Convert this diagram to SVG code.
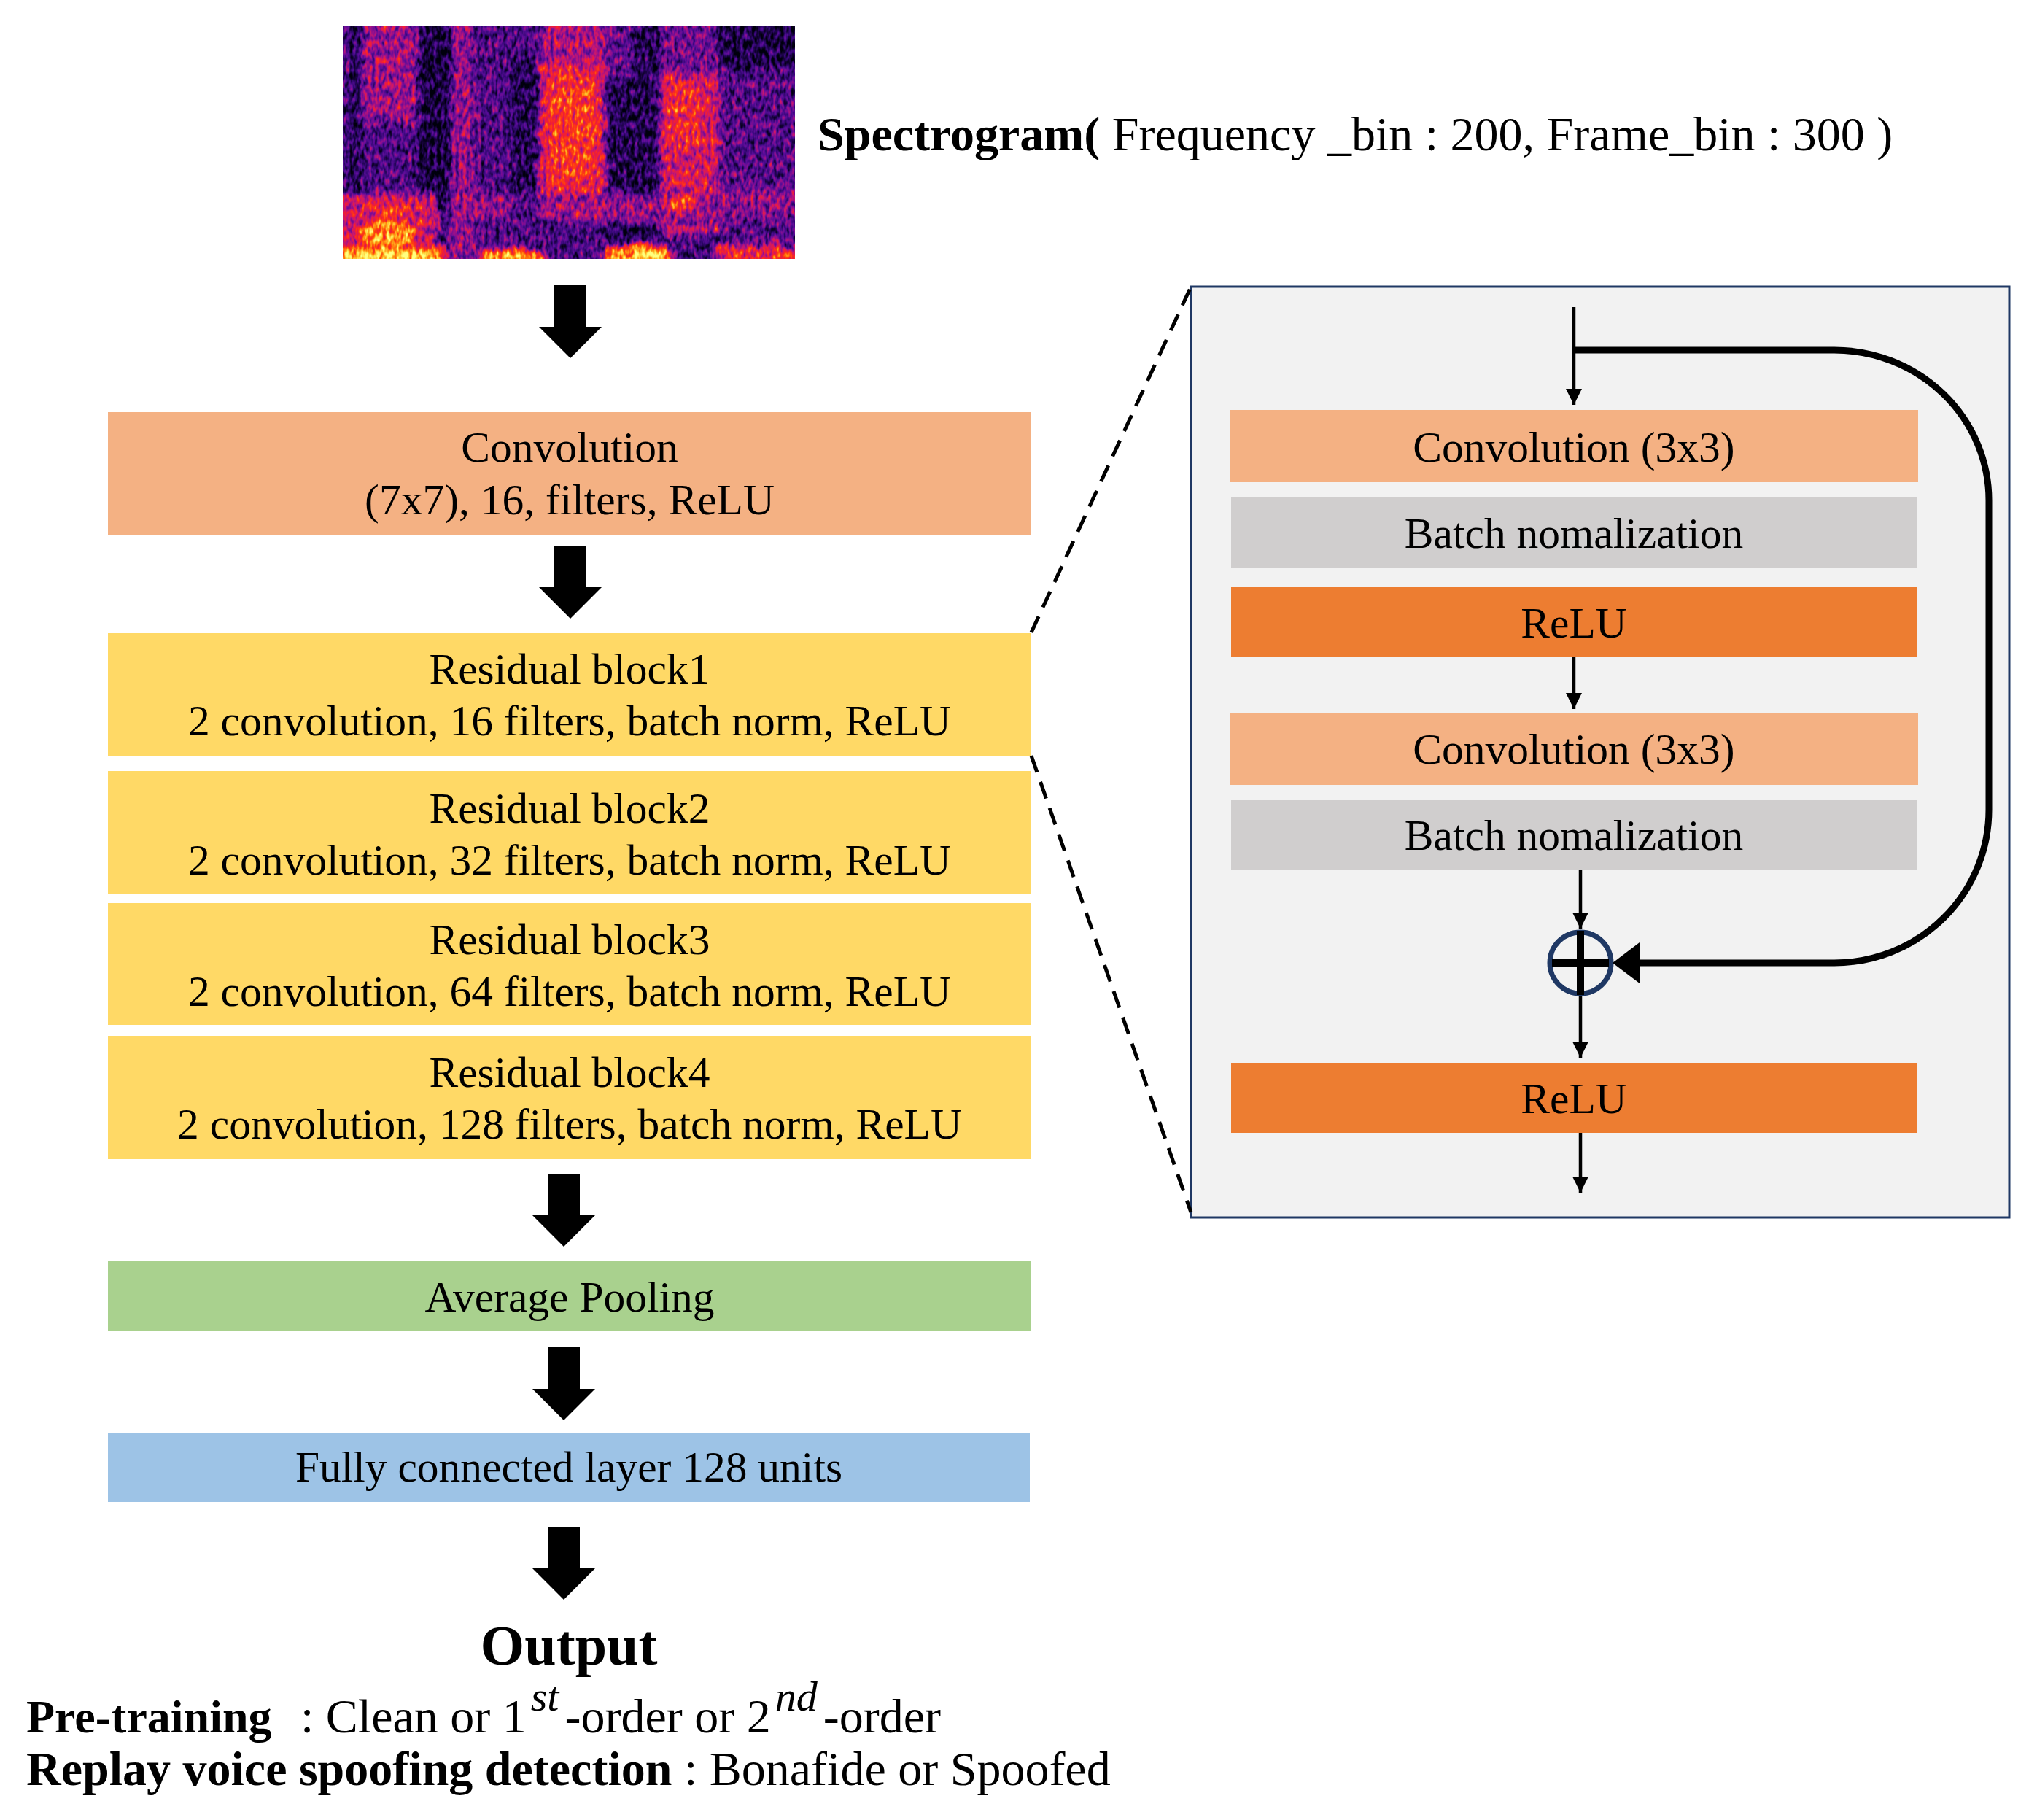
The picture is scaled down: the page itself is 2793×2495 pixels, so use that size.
<svg xmlns="http://www.w3.org/2000/svg" width="2793" height="2495" viewBox="0 0 2793 2495">
<defs>
<style>
.t{font-family:"Liberation Serif","Times New Roman",serif;font-size:59.5px;fill:#000;text-anchor:middle}
.b{font-weight:bold}
.sup{font-style:italic;font-size:58px}
.conv{fill:#F4B183}
.res{fill:#FFD966}
.bn{fill:#D0CECE}
.relu{fill:#ED7D31}
.pool{fill:#A9D18E}
.fc{fill:#9DC3E6}
.big{fill:#000}
.thin{stroke:#000;stroke-width:4.5;fill:none;marker-end:url(#ah)}
.dash{stroke:#000;stroke-width:5;stroke-dasharray:24 14;fill:none}
</style>
<marker id="ah" markerUnits="userSpaceOnUse" markerWidth="22" markerHeight="22" viewBox="0 0 22 22" refX="22" refY="11" orient="auto">
<path d="M0,0 L22,11 L0,22 Z" fill="#000"/>
</marker>
<filter id="specf" filterUnits="userSpaceOnUse" x="450" y="15" width="660" height="360" color-interpolation-filters="sRGB">
<feTurbulence type="fractalNoise" baseFrequency="0.03 0.05" numOctaves="2" seed="3" result="d"/>
<feDisplacementMap in="SourceGraphic" in2="d" scale="22" xChannelSelector="R" yChannelSelector="G" result="ds"/>
<feGaussianBlur in="ds" stdDeviation="4" result="b"/>
<feTurbulence type="fractalNoise" baseFrequency="0.2 0.09" numOctaves="2" seed="11" result="t"/>
<feColorMatrix in="t" type="matrix" values="1 0 0 0 0 1 0 0 0 0 1 0 0 0 0 0 0 0 0 1" result="tg"/>
<feComposite in="b" in2="tg" operator="arithmetic" k1="0" k2="1" k3="0.75" k4="-0.375" result="c"/>
<feComponentTransfer in="c">
<feFuncR type="table" tableValues="0 0.08 0.2 0.35 0.56 0.78 0.95 1 1 1 1"/>
<feFuncG type="table" tableValues="0 0.01 0.03 0.05 0.06 0.09 0.12 0.25 0.56 0.84 1"/>
<feFuncB type="table" tableValues="0.05 0.22 0.45 0.6 0.56 0.44 0.2 0.06 0.06 0.25 0.5"/>
<feFuncA type="linear" slope="0" intercept="1"/>
</feComponentTransfer>
</filter>
<clipPath id="specclip"><rect x="470" y="35" width="620" height="320"/></clipPath>
</defs>
<rect width="2793" height="2495" fill="#fff"/>

<g id="spectrogram" clip-path="url(#specclip)">
<g filter="url(#specf)">
<rect x="440" y="10" width="680" height="370" fill="rgb(61,61,61)"/>
<rect x="440" y="10" width="56" height="370" fill="rgb(38,38,38)"/>
<rect x="470" y="35" width="6" height="250" fill="rgb(90,90,90)"/>
<rect x="496" y="10" width="78" height="155" fill="rgb(107,107,107)"/>
<rect x="496" y="165" width="78" height="100" fill="rgb(66,66,66)"/>
<rect x="574" y="10" width="44" height="285" fill="rgb(26,26,26)"/>
<rect x="618" y="10" width="32" height="370" fill="rgb(102,102,102)"/>
<rect x="650" y="10" width="90" height="370" fill="rgb(66,66,66)"/>
<rect x="700" y="80" width="38" height="180" fill="rgb(36,36,36)"/>
<rect x="740" y="10" width="90" height="80" fill="rgb(115,115,115)"/>
<rect x="740" y="90" width="90" height="175" fill="rgb(148,148,148)"/>
<rect x="755" y="110" width="60" height="130" fill="rgb(168,168,168)"/>
<rect x="740" y="265" width="90" height="40" fill="rgb(107,107,107)"/>
<rect x="830" y="10" width="75" height="320" fill="rgb(36,36,36)"/>
<rect x="830" y="10" width="38" height="100" fill="rgb(77,77,77)"/>
<rect x="905" y="10" width="80" height="90" fill="rgb(84,84,84)"/>
<rect x="905" y="100" width="80" height="220" fill="rgb(133,133,133)"/>
<rect x="915" y="110" width="45" height="90" fill="rgb(153,153,153)"/>
<rect x="985" y="10" width="135" height="85" fill="rgb(31,31,31)"/>
<rect x="985" y="95" width="135" height="245" fill="rgb(69,69,69)"/>
<rect x="985" y="255" width="135" height="45" fill="rgb(97,97,97)"/>
<rect x="620" y="268" width="80" height="32" fill="rgb(107,107,107)"/>
<rect x="830" y="265" width="155" height="45" fill="rgb(102,102,102)"/>
<ellipse cx="935" cy="278" rx="25" ry="8" fill="rgb(179,179,179)"/>
<rect x="440" y="265" width="160" height="90" fill="rgb(133,133,133)"/>
<ellipse cx="530" cy="322" rx="38" ry="18" fill="rgb(209,209,209)"/>
<ellipse cx="530" cy="290" rx="30" ry="8" fill="rgb(179,179,179)"/>
<rect x="440" y="342" width="172" height="40" fill="rgb(230,230,230)"/>
<rect x="655" y="341" width="90" height="40" fill="rgb(204,204,204)"/>
<rect x="828" y="337" width="92" height="40" fill="rgb(217,217,217)"/>
<rect x="985" y="338" width="135" height="40" fill="rgb(158,158,158)"/>
</g>
</g>

<g id="spectrogram-label">
<text class="t" x="1121" y="206" style="text-anchor:start;font-size:66px"><tspan class="b">Spectrogram(</tspan> Frequency _bin : 200, Frame_bin : 300 )</text>
</g>

<g id="conv7">
<rect class="conv" x="148" y="565" width="1266" height="168"/>
<text class="t" x="781" y="633">Convolution</text>
<text class="t" x="781" y="705">(7x7), 16, filters, ReLU</text>
</g>
<g id="res1">
<rect class="res" x="148" y="868" width="1266" height="168"/>
<text class="t" x="781" y="937">Residual block1</text>
<text class="t" x="781" y="1008">2 convolution, 16 filters, batch norm, ReLU</text>
</g>
<g id="res2">
<rect class="res" x="148" y="1057" width="1266" height="169"/>
<text class="t" x="781" y="1128">Residual block2</text>
<text class="t" x="781" y="1199">2 convolution, 32 filters, batch norm, ReLU</text>
</g>
<g id="res3">
<rect class="res" x="148" y="1238" width="1266" height="167"/>
<text class="t" x="781" y="1308">Residual block3</text>
<text class="t" x="781" y="1379">2 convolution, 64 filters, batch norm, ReLU</text>
</g>
<g id="res4">
<rect class="res" x="148" y="1420" width="1266" height="169"/>
<text class="t" x="781" y="1490">Residual block4</text>
<text class="t" x="781" y="1561">2 convolution, 128 filters, batch norm, ReLU</text>
</g>
<g id="avgpool">
<rect class="pool" x="148" y="1729" width="1266" height="95"/>
<text class="t" x="781" y="1798">Average Pooling</text>
</g>
<g id="fc">
<rect class="fc" x="148" y="1964" width="1264" height="95"/>
<text class="t" x="780" y="2031">Fully connected layer 128 units</text>
</g>
<g id="output">
<text class="t b" x="780" y="2282" style="font-size:78px">Output</text>
<text class="t" x="36" y="2375" style="text-anchor:start;font-size:66px"><tspan class="b" style="font-size:64px">Pre-training</tspan><tspan x="412">: Clean or 1</tspan><tspan class="sup" dx="6" dy="-30">st</tspan><tspan dx="8" dy="30">-order or 2</tspan><tspan class="sup" dx="6" dy="-30">nd</tspan><tspan dx="8" dy="30">-order</tspan></text>
<text class="t" x="36" y="2447" style="text-anchor:start;font-size:66px"><tspan class="b">Replay voice spoofing detection</tspan> : Bonafide or Spoofed</text>
</g>

<g id="residual-detail">
<rect x="1633" y="393" width="1122" height="1276" fill="#F2F2F2" stroke="#1F3864" stroke-width="3"/>
<g id="d-conv1">
<rect class="conv" x="1687" y="562" width="943" height="99"/>
<text class="t" x="2158" y="633">Convolution (3x3)</text>
</g>
<g id="d-bn1">
<rect class="bn" x="1688" y="682" width="940" height="97"/>
<text class="t" x="2158" y="751">Batch nomalization</text>
</g>
<g id="d-relu1">
<rect class="relu" x="1688" y="805" width="940" height="96"/>
<text class="t" x="2158" y="874">ReLU</text>
</g>
<g id="d-conv2">
<rect class="conv" x="1687" y="977" width="943" height="99"/>
<text class="t" x="2158" y="1047">Convolution (3x3)</text>
</g>
<g id="d-bn2">
<rect class="bn" x="1688" y="1097" width="940" height="96"/>
<text class="t" x="2158" y="1165">Batch nomalization</text>
</g>
<g id="d-add">
<circle cx="2167" cy="1320" r="42" fill="none" stroke="#1F3864" stroke-width="7"/>
<line x1="2167" y1="1276" x2="2167" y2="1364" stroke="#000" stroke-width="10"/>
<line x1="2128" y1="1320" x2="2206" y2="1320" stroke="#000" stroke-width="10"/>
</g>
<g id="d-relu2">
<rect class="relu" x="1688" y="1457" width="940" height="96"/>
<text class="t" x="2158" y="1526">ReLU</text>
</g>
</g>

<g id="connectors">
<path class="big" d="M760,391 H804 V448 H825 L782,491 L739,448 H760 Z"/>
<path class="big" d="M760,748 H804 V805 H825 L782,848 L739,805 H760 Z"/>
<path class="big" d="M751,1609 H795 V1666 H816 L773,1709 L730,1666 H751 Z"/>
<path class="big" d="M751,1847 H795 V1904 H816 L773,1947 L730,1904 H751 Z"/>
<path class="big" d="M751,2093 H795 V2150 H816 L773,2193 L730,2150 H751 Z"/>
<line class="dash" x1="1414" y1="867" x2="1633" y2="393"/>
<line class="dash" x1="1414" y1="1036" x2="1633" y2="1662"/>
<line class="thin" x1="2158" y1="421" x2="2158" y2="555"/>
<line class="thin" x1="2158" y1="901" x2="2158" y2="972"/>
<line class="thin" x1="2167" y1="1193" x2="2167" y2="1273"/>
<line class="thin" x1="2167" y1="1366" x2="2167" y2="1450"/>
<line class="thin" x1="2167" y1="1553" x2="2167" y2="1635"/>
<path d="M2156,480 H2515 A212 206 0 0 1 2727 686 V1110 A212 210 0 0 1 2515 1320 H2246" fill="none" stroke="#000" stroke-width="9"/>
<path d="M2211,1320 L2248,1292 L2248,1348 Z" fill="#000"/>
</g>
</svg>
